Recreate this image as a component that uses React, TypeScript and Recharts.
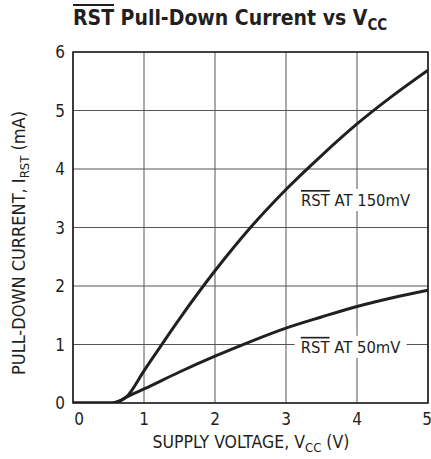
import { CartesianGrid, Line, LineChart, ReferenceArea, ReferenceDot, XAxis, YAxis, Label } from "recharts";

const FONT = '"Liberation Sans Narrow", "DejaVu Sans Condensed", "Roboto Condensed", sans-serif';
const INK = "#231f20";

const xTicks = [0, 1, 2, 3, 4, 5];
const yTicks = [0, 1, 2, 3, 4, 5, 6];

const volts150 = [0, 0.55, 0.65, 0.75, 1, 1.5, 2, 2.5, 3, 3.5, 4, 4.5, 5];
const current150 = [0, 0, 0.03, 0.1, 0.55, 1.44, 2.26, 3.0, 3.65, 4.23, 4.77, 5.25, 5.69];

const volts50 = [0, 0.55, 0.65, 0.75, 1, 1.5, 2, 2.5, 3, 3.5, 4, 4.5, 5];
const current50 = [0, 0, 0.03, 0.1, 0.24, 0.53, 0.8, 1.05, 1.28, 1.47, 1.65, 1.8, 1.93];

const data150 = volts150.map((v, i) => ({ v, i: current150[i] }));
const data50 = volts50.map((v, i) => ({ v, i: current50[i] }));

function CurveLabel(props: any) {
  const { cx, cy, mv, w } = props;
  return (
    <g>
      <rect x={cx - w / 2} y={cy - 11} width={w} height={22} fill="#fff" />
      <text x={cx} y={cy + 6} textAnchor="middle" fontFamily={FONT} fontSize={16.5} fill={INK}>
        <tspan style={{ textDecoration: "overline" }}>RST</tspan>
        {` AT ${mv}mV`}
      </text>
    </g>
  );
}

function XTick(props: any) {
  const { x, y, payload } = props;
  const dx = payload.value === 0 ? 6 : 0;
  return (
    <text x={x + dx} y={y + 14} textAnchor="middle" fontFamily={FONT} fontSize={17} fill={INK}>
      {payload.value}
    </text>
  );
}

function YTick(props: any) {
  const { x, y, payload } = props;
  return (
    <text x={x} y={y + 6} textAnchor="end" fontFamily={FONT} fontSize={17} fill={INK}>
      {payload.value}
    </text>
  );
}

export default function App() {
  return (
    <div style={{ position: "absolute", left: 0, top: 0, width: 431, height: 459, background: "#fff" }}>
      <div
        style={{
          position: "absolute",
          left: 73,
          top: 6,
          fontFamily: FONT,
          fontWeight: "bold",
          fontSize: 21,
          color: INK,
          whiteSpace: "nowrap",
        }}
      >
        <span style={{ textDecoration: "overline" }}>RST</span> Pull-Down Current vs V
        <span style={{ fontSize: 15, position: "relative", top: 5 }}>CC</span>
      </div>
      <LineChart
        width={431}
        height={459}
        margin={{ top: 52, right: 3, bottom: 26, left: 28 }}
        style={{ position: "absolute", left: 0, top: 0 }}
      >
        <CartesianGrid stroke="#555" strokeWidth={1} />
        <XAxis
          type="number"
          dataKey="v"
          domain={[0, 5]}
          ticks={xTicks}
          tickLine={false}
          axisLine={false}
          height={30}
          tick={<XTick />}
          allowDataOverflow
        >
          <Label
            content={(p: any) => {
              const vb = p.viewBox;
              return (
                <text x={251} y={vb.y + 45} textAnchor="middle" fontFamily={FONT} fontSize={17.5} fill={INK}>
                  SUPPLY VOLTAGE, V
                  <tspan fontSize={13} dy={4}>CC</tspan>
                  <tspan dy={-4}> (V)</tspan>
                </text>
              );
            }}
          />
        </XAxis>
        <YAxis
          type="number"
          domain={[0, 6]}
          ticks={yTicks}
          tickLine={false}
          axisLine={false}
          width={45}
          tick={<YTick />}
          allowDataOverflow
        >
          <Label
            content={() => (
              <text
                x={25}
                y={243}
                transform="rotate(-90 25 243)"
                textAnchor="middle"
                fontFamily={FONT}
                fontSize={18}
                fill={INK}
              >
                PULL-DOWN CURRENT, I
                <tspan fontSize={13} dy={4}>RST</tspan>
                <tspan dy={-4}> (mA)</tspan>
              </text>
            )}
          />
        </YAxis>
        <ReferenceArea x1={0} x2={5} y1={0} y2={6} fill="none" stroke={INK} strokeWidth={1.6} fillOpacity={0} />
        <ReferenceDot x={3.98} y={3.47} r={0} shape={(p: any) => <CurveLabel {...p} mv={150} w={118} />} />
        <ReferenceDot x={3.91} y={0.96} r={0} shape={(p: any) => <CurveLabel {...p} mv={50} w={112} />} />
        <Line
          data={data150}
          dataKey="i"
          type="monotone"
          stroke={INK}
          strokeWidth={3}
          dot={false}
          isAnimationActive={false}
        />
        <Line
          data={data50}
          dataKey="i"
          type="monotone"
          stroke={INK}
          strokeWidth={3}
          dot={false}
          isAnimationActive={false}
        />
      </LineChart>
    </div>
  );
}
